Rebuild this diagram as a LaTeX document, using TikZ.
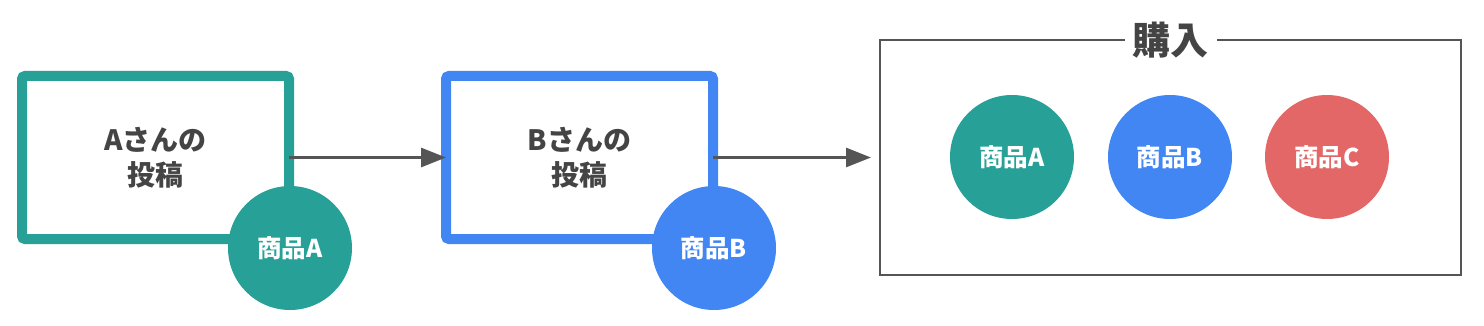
\documentclass[tikz,border=0pt]{standalone}
\usepackage{fontspec}
\setmainfont{Noto Sans CJK JP}
\usetikzlibrary{arrows.meta}
\definecolor{teal}{HTML}{27A198}
\definecolor{blu}{HTML}{4186F2}
\definecolor{redc}{HTML}{E26766}
\definecolor{txt}{HTML}{444444}
\definecolor{ln}{HTML}{555555}
\tikzset{
  post/.style={draw=#1, line width=10pt, rounded corners=3pt, minimum width=267pt, minimum height=163pt, outer sep=0pt, inner sep=0pt, align=center, text=txt, font=\bfseries\fontsize{28}{35}\selectfont},
  item/.style={circle, fill=#1, minimum size=124pt, inner sep=0pt, text=white, font=\bfseries\fontsize{24.5}{28}\selectfont},
  arr/.style={draw=ln, line width=3pt, -{Triangle[length=25pt,width=19pt]}},
  group/.style={draw=ln, line width=2pt, minimum width=581pt, minimum height=234pt, outer sep=0pt, inner sep=0pt},
  grouptitle/.style={fill=white, inner xsep=8pt, inner ysep=0pt, text=txt, font=\bfseries\fontsize{38}{42}\selectfont}
}
\begin{document}
\begin{tikzpicture}[x=1pt,y=-1pt]
\useasboundingbox (0,0) rectangle (1484,326);
\node[post=teal] (a) at (155.5,157.5) {Aさんの\\投稿};
\node[item=teal] (ia) at (290,248) {商品A};
\node[post=blu] (b) at (579.5,157.5) {Bさんの\\投稿};
\node[item=blu] (ib) at (714,248) {商品B};
\node[group] (buy) at (1170.5,157.5) {};
\node[grouptitle] (title) at (buy.north) {購入};
\node[item=teal] (c1) at (1012,157) {商品A};
\node[item=blu] (c2) at (1170,157) {商品B};
\node[item=redc] (c3) at (1327,157) {商品C};
\draw[arr] (a.east) -- (b.west);
\draw[arr, shorten >=9pt] (b.east) -- (buy.west);
\end{tikzpicture}
\end{document}
